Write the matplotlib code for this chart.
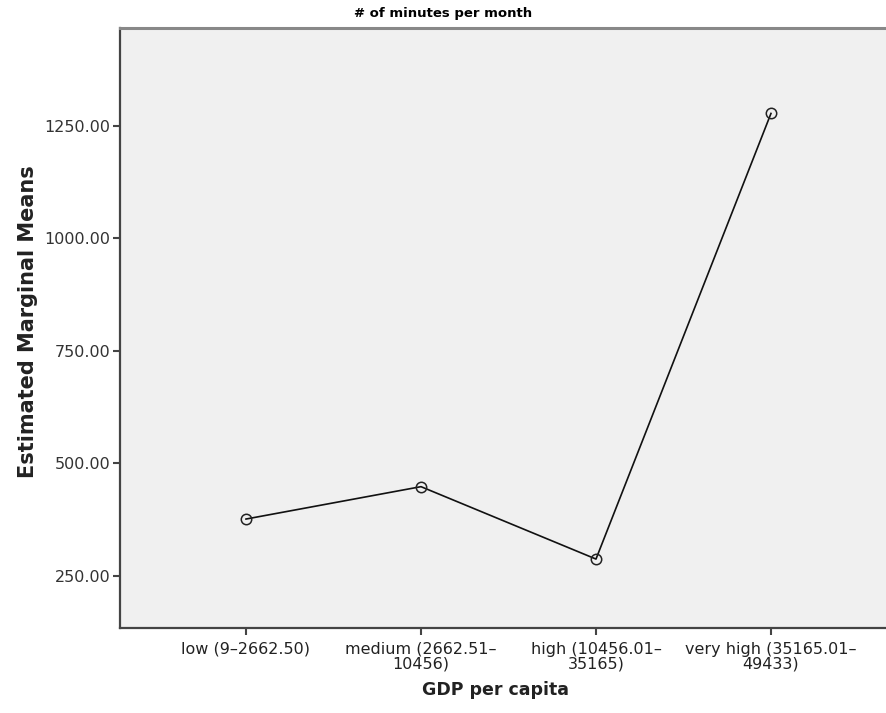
import matplotlib
matplotlib.use('Agg')
import matplotlib.pyplot as plt

categories = ['low (9\u20132662.50)', 'medium (2662.51\u2013\n10456)',
              'high (10456.01\u2013\n35165)', 'very high (35165.01\u2013\n49433)']
means = [376, 448, 287, 1278]
yticks = [250, 500, 750, 1000, 1250]

fig = plt.figure(figsize=(8.87, 7.13), dpi=100)
ax = fig.add_axes([120 / 887, 85 / 713, 767 / 887, 600 / 713])
ax.set_facecolor('#f0f0f0')

x = list(range(len(categories)))
ax.plot(x, means, color='#111111', lw=1.2, marker='o', ms=7.5,
        mfc='none', mec='#222222', mew=1.1)

ax.set_xlim(-0.72, 3.663)
ax.set_ylim(133.7, 1468)
ax.set_yticks(yticks)
ax.set_yticklabels(['%.2f' % v for v in yticks], fontsize=11.5, color='#333333')
ax.set_xticks(x)
ax.set_xticklabels(categories, fontsize=11.5, color='#222222',
                   family=['Liberation Sans Narrow', 'DejaVu Sans'], linespacing=0.95)
ax.tick_params(axis='both', direction='out', length=5, width=1.5, color='#444444', pad=2)
ax.tick_params(axis='x', pad=5)

for s in ['left', 'bottom']:
    ax.spines[s].set_color('#444444')
    ax.spines[s].set_linewidth(1.6)
ax.spines['top'].set_color('#888888')
ax.spines['top'].set_linewidth(2.2)
ax.spines['right'].set_visible(False)

fig.text(0.5, 1 - 14 / 713, '# of minutes per month', ha='center', va='center',
         fontsize=9.5, fontweight='bold')
fig.text(495 / 887, 1 - 690 / 713, 'GDP per capita', ha='center', va='center',
         fontsize=12.5, fontweight='bold', color='#222222')
fig.text(28 / 887, 1 - 322 / 713, 'Estimated Marginal Means', ha='center', va='center',
         rotation=90, fontsize=15, fontweight='bold', color='#222222')

fig.savefig('out.png', dpi=100)
